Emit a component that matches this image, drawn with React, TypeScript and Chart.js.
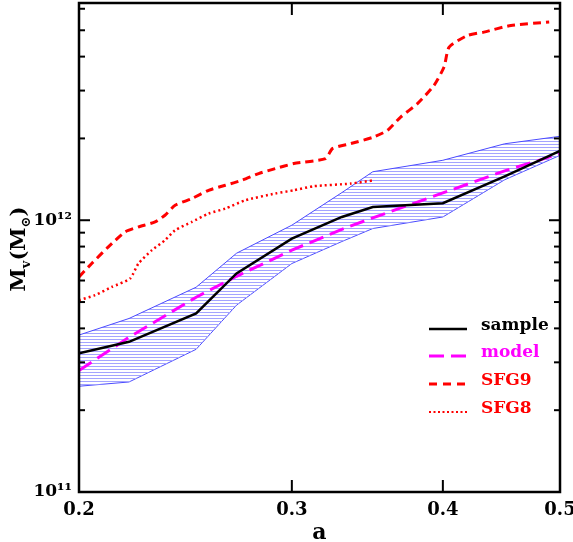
import React, { useEffect, useRef } from 'react';
import { Chart, registerables } from 'chart.js';

Chart.register(...registerables);

// ---- axis ticks ----
const xTicks = [0.2, 0.3, 0.4, 0.5];
const xTickLabels = ['0.2', '0.3', '0.4', '0.5'];
const yMajorTicks = [1e11, 1e12];
const yTickLabels = ['10¹¹', '10¹²'];

// ---- series (a, M_v in M_sun) ----
const sampleA = [0.2, 0.22, 0.25, 0.27, 0.3, 0.33, 0.35, 0.4, 0.45, 0.5];
const sampleM = [3.24e11, 3.57e11, 4.54e11, 6.37e11, 8.56e11, 1.028e12, 1.119e12, 1.155e12, 1.45e12, 1.798e12];

const modelA = [0.2, 0.22, 0.25, 0.27, 0.3, 0.33, 0.35, 0.4, 0.45, 0.5];
const modelM = [2.8e11, 3.71e11, 5.21e11, 6.22e11, 7.76e11, 9.26e11, 1.02e12, 1.26e12, 1.52e12, 1.756e12];

const bandA = [0.2, 0.22, 0.25, 0.27, 0.3, 0.33, 0.35, 0.4, 0.45, 0.5];
const bandUpperM = [3.78e11, 4.35e11, 5.67e11, 7.56e11, 9.59e11, 1.264e12, 1.508e12, 1.662e12, 1.911e12, 2.036e12];
const bandLowerM = [2.45e11, 2.54e11, 3.35e11, 4.87e11, 6.93e11, 8.35e11, 9.32e11, 1.028e12, 1.409e12, 1.733e12];

const sfg9A = [0.2, 0.2049, 0.2115, 0.2184, 0.224, 0.2312, 0.2356, 0.2402, 0.248, 0.256, 0.2643, 0.2728, 0.2816, 0.2907, 0.3011, 0.3199, 0.3241, 0.3356, 0.3508, 0.3599, 0.3691, 0.3811, 0.3933, 0.4009, 0.4048, 0.4193, 0.4325, 0.4554, 0.4898];
const sfg9M = [6.19e11, 6.93e11, 7.98e11, 9.06e11, 9.45e11, 9.86e11, 1.043e12, 1.135e12, 1.202e12, 1.289e12, 1.345e12, 1.403e12, 1.485e12, 1.549e12, 1.616e12, 1.686e12, 1.835e12, 1.914e12, 2.025e12, 2.142e12, 2.398e12, 2.685e12, 3.135e12, 3.661e12, 4.336e12, 4.787e12, 4.923e12, 5.21e12, 5.36e12];

const sfg8A = [0.2, 0.2062, 0.2129, 0.2204, 0.224, 0.2298, 0.2356, 0.2402, 0.248, 0.256, 0.2643, 0.2745, 0.2907, 0.3011, 0.3127, 0.3356, 0.3508];
const sfg8M = [5.08e11, 5.3e11, 5.68e11, 6.1e11, 6.93e11, 7.76e11, 8.44e11, 9.19e11, 9.86e11, 1.058e12, 1.104e12, 1.184e12, 1.254e12, 1.289e12, 1.334e12, 1.364e12, 1.403e12];

const legendLabels = ['sample', 'model', 'SFG9', 'SFG8'];

const pts = (xs: number[], ys: number[]) => xs.map((x, i) => ({ x, y: ys[i] }));

const SERIF = '"DejaVu Serif", serif';

const legendStyles = [
  { color: '#000000', dash: [] as number[], width: 2.5 },
  { color: '#ff00ff', dash: [15, 7], width: 3 },
  { color: '#ff0000', dash: [8, 6], width: 3 },
  { color: '#ff0000', dash: [2, 2.5], width: 2 },
];

const zeroPad = (s: any) => {
  s.paddingTop = 0;
  s.paddingBottom = 0;
  s.paddingLeft = 0;
  s.paddingRight = 0;
};

const framePlugin = {
  id: 'frame',
  afterDraw(chart: any) {
    const { ctx, chartArea } = chart;
    const { left, right, top, bottom } = chartArea;
    const xs = chart.scales.x;
    const ys = chart.scales.y;
    const line = (x1: number, y1: number, x2: number, y2: number) => {
      ctx.beginPath();
      ctx.moveTo(x1, y1);
      ctx.lineTo(x2, y2);
      ctx.stroke();
    };
    ctx.save();
    ctx.strokeStyle = '#000';
    ctx.setLineDash([]);
    ctx.lineWidth = 2;
    // y ticks (major + minor)
    for (let e = 11; e <= 12; e++) {
      for (let m = 1; m <= 9; m++) {
        const v = m * Math.pow(10, e);
        if (v > ys.max) continue;
        const py = ys.getPixelForValue(v);
        const len = m === 1 ? 11 : 6;
        line(left, py, left + len, py);
        line(right, py, right - len, py);
      }
    }
    // x ticks
    xTicks.forEach((v) => {
      const px = xs.getPixelForValue(v);
      line(px, bottom, px, bottom - 12);
      line(px, top, px, top + 12);
    });
    ctx.lineWidth = 2.5;
    ctx.strokeRect(left, top, right - left, bottom - top);

    // y-axis title  M_v(M_sun)
    ctx.save();
    ctx.translate(25, 249);
    ctx.rotate(-Math.PI / 2);
    ctx.fillStyle = '#000';
    ctx.textBaseline = 'alphabetic';
    const big = `bold 21px ${SERIF}`;
    const small = `bold 13px ${SERIF}`;
    const segs: [string, string, number][] = [
      ['M', big, 0],
      ['v', small, 5],
      ['(', big, 0],
      ['M', big, 0],
      ['⊙', small, 5],
      [')', big, 0],
    ];
    let total = 0;
    segs.forEach(([t, f]) => {
      ctx.font = f;
      total += ctx.measureText(t).width;
    });
    let cx = -total / 2;
    segs.forEach(([t, f, dy]) => {
      ctx.font = f;
      ctx.fillText(t, cx, dy);
      cx += ctx.measureText(t).width;
    });
    ctx.restore();

    // legend
    const rows = [326, 353, 381, 409];
    legendLabels.forEach((lab, i) => {
      const st = legendStyles[i];
      ctx.strokeStyle = st.color;
      ctx.lineWidth = st.width;
      ctx.setLineDash(st.dash);
      line(429, rows[i] + 3, 467, rows[i] + 3);
      ctx.setLineDash([]);
      ctx.fillStyle = st.color;
      ctx.font = `bold 17px ${SERIF}`;
      ctx.textBaseline = 'middle';
      ctx.textAlign = 'left';
      ctx.fillText(lab, 481, rows[i]);
    });
    ctx.restore();
  },
};

export default function App() {
  const ref = useRef<HTMLCanvasElement | null>(null);
  useEffect(() => {
    document.body.style.margin = '0';
    const canvas = ref.current!;
    const ctx = canvas.getContext('2d')!;
    const pc = document.createElement('canvas');
    pc.width = 8;
    pc.height = 3;
    const pctx = pc.getContext('2d')!;
    pctx.fillStyle = '#a4a4ff';
    pctx.fillRect(0, 0, 8, 1);
    const hatch = ctx.createPattern(pc, 'repeat');

    const chart = new Chart(ctx, {
      type: 'line',
      data: {
        datasets: [
          { label: 'sample', data: pts(sampleA, sampleM), borderColor: '#000', borderWidth: 2.5, pointRadius: 0, fill: false, tension: 0 },
          { label: 'model', data: pts(modelA, modelM), borderColor: '#ff00ff', borderWidth: 3, borderDash: [15, 7], pointRadius: 0, fill: false, tension: 0 },
          { label: 'SFG9', data: pts(sfg9A, sfg9M), borderColor: '#ff0000', borderWidth: 3, borderDash: [8, 5], pointRadius: 0, fill: false, tension: 0.2 },
          { label: 'SFG8', data: pts(sfg8A, sfg8M), borderColor: '#ff0000', borderWidth: 2.5, borderDash: [2, 3], pointRadius: 0, fill: false, tension: 0.2 },
          { label: 'band upper', data: pts(bandA, bandUpperM), borderColor: '#4a4aff', borderWidth: 1, pointRadius: 0, fill: '+1', backgroundColor: hatch as any, tension: 0 },
          { label: 'band lower', data: pts(bandA, bandLowerM), borderColor: '#4a4aff', borderWidth: 1, pointRadius: 0, fill: false, tension: 0 },
        ],
      },
      options: {
        animation: false,
        responsive: false,
        devicePixelRatio: 1,
        layout: { padding: { top: 3, right: 13, left: 0, bottom: 0 } },
        plugins: { legend: { display: false }, tooltip: { enabled: false } },
        scales: {
          x: {
            type: 'logarithmic',
            min: 0.2,
            max: 0.5,
            grid: { display: false, drawTicks: false },
            border: { display: false },
            afterBuildTicks: (s: any) => {
              s.ticks = xTicks.map((v) => ({ value: v }));
            },
            afterFit: (s: any) => {
              s.height = 50;
              zeroPad(s);
            },
            ticks: {
              autoSkip: false,
              maxRotation: 0,
              padding: 8,
              color: '#000',
              font: { family: SERIF, size: 18, weight: 'bold' },
              callback: (v: any) => xTickLabels[xTicks.indexOf(Number(v))] ?? '',
            },
            title: {
              display: true,
              text: 'a',
              color: '#000',
              font: { family: SERIF, size: 22, weight: 'bold' },
              padding: { top: 0, bottom: -4 },
            },
          },
          y: {
            type: 'logarithmic',
            min: 1e11,
            max: 6.3e12,
            grid: { display: false, drawTicks: false },
            border: { display: false },
            afterBuildTicks: (s: any) => {
              s.ticks = yMajorTicks.map((v) => ({ value: v }));
            },
            afterFit: (s: any) => {
              s.width = 79;
              zeroPad(s);
            },
            ticks: {
              autoSkip: false,
              padding: 7,
              color: '#000',
              font: { family: SERIF, size: 17, weight: 'bold' },
              callback: (v: any) => yTickLabels[yMajorTicks.indexOf(Number(v))] ?? '',
            },
          },
        },
      },
      plugins: [framePlugin],
    });
    return () => chart.destroy();
  }, []);
  return (
    <div style={{ position: 'absolute', left: 0, top: 0, width: 573, height: 542, background: '#fff' }}>
      <canvas ref={ref} width={573} height={542} style={{ display: 'block' }} />
    </div>
  );
}
